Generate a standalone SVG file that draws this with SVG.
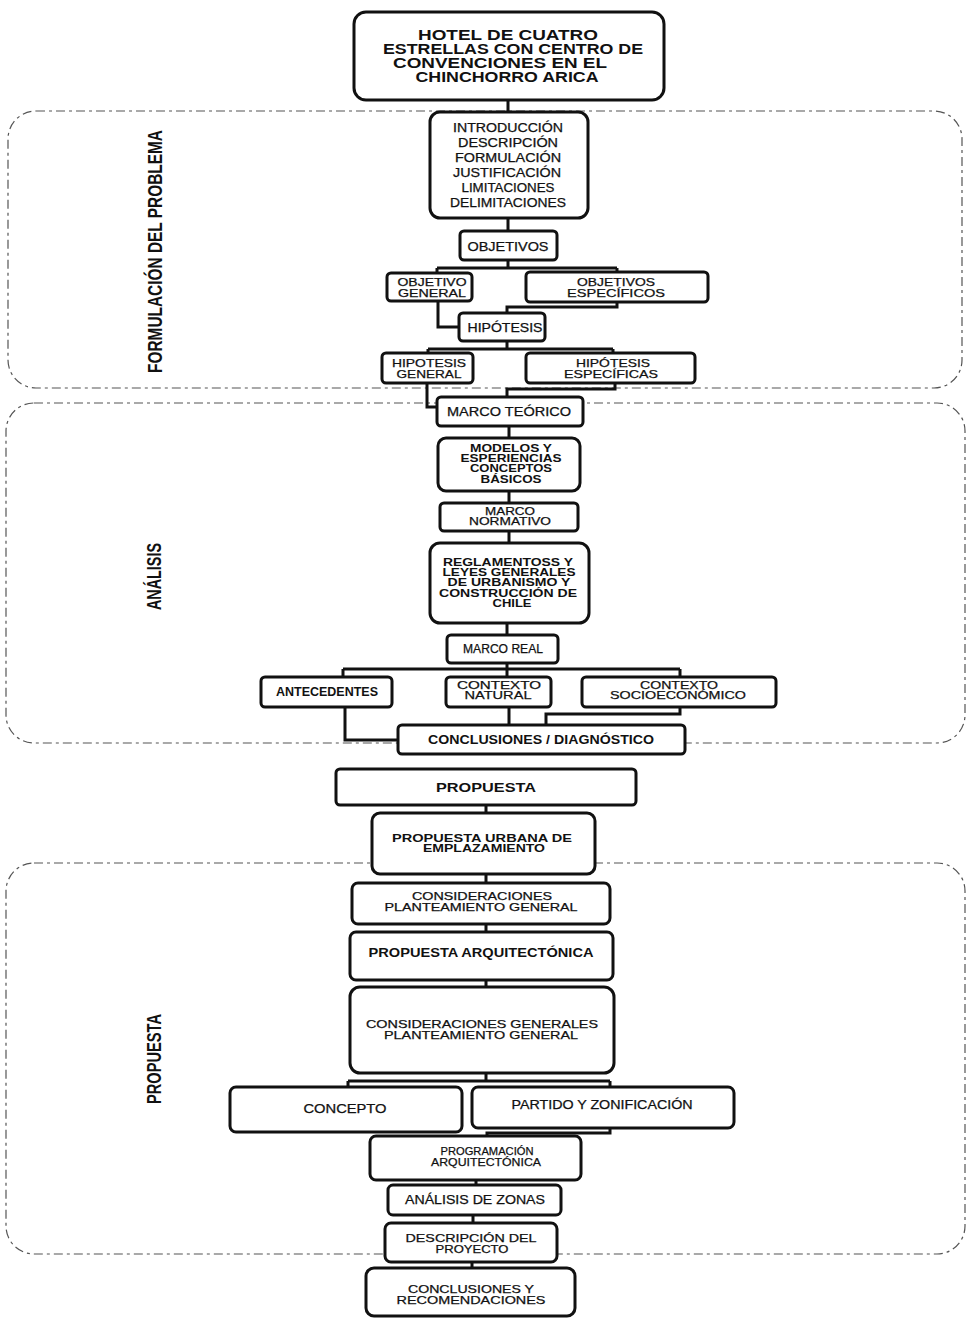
<svg xmlns="http://www.w3.org/2000/svg" width="970" height="1318" viewBox="0 0 970 1318">
<style>
.bx{fill:#fff;stroke:#111;stroke-width:3}
.t{font-family:"Liberation Sans",Arial,sans-serif;font-size:12px;fill:#111;text-anchor:middle;stroke:#111;stroke-width:0.25}
.s{font-size:11px}
.b{font-weight:bold;stroke-width:0}
.h{font-size:14.5px;font-weight:bold;stroke-width:0}
.c{fill:none;stroke:#111;stroke-width:3}
.grp{fill:none;stroke:#555;stroke-width:1.2;stroke-dasharray:9 4 3 4}
.lbl{font-family:"Liberation Sans",Arial,sans-serif;font-weight:bold;font-size:20px;fill:#111}
</style>
<rect width="970" height="1318" fill="#fff"/>
<g id="sections">
<rect class="grp" x="8" y="111" width="954" height="277" rx="28"/>
<rect class="grp" x="6" y="403" width="959" height="340" rx="28"/>
<rect class="grp" x="6" y="863" width="959" height="391" rx="28"/>
<text class="lbl" transform="translate(162,373) rotate(-90)" textLength="243" lengthAdjust="spacingAndGlyphs">FORMULACIÓN DEL PROBLEMA</text>
<text class="lbl" transform="translate(161,610) rotate(-90)" textLength="67" lengthAdjust="spacingAndGlyphs">ANÁLISIS</text>
<text class="lbl" transform="translate(161,1104) rotate(-90)" textLength="90" lengthAdjust="spacingAndGlyphs">PROPUESTA</text>
</g>
<g id="connectors">
<path class="c" d="M508 100 V112 M508 218 V231 M508 260 V268 M437 268 H617 M437 268 V273 M617 268 V272 M438 301 V327 H459 M617 302 V307 H507 V313 M507 341 V349 M428 349 H613 M428 349 V353 M613 349 V353 M427 383 V407 H437 M615 383 V389 H507 V397 M509 426 V438 M509 491 V503 M509 531 V543 M507 623 V635 M507 663 V677 M343 669 H680 M343 669 V677 M680 669 V677 M345 707 V740 H398 M509 707 V725 M680 707 V714 H546 V725 M486 805 V813 M486 874 V883 M486 924 V932 M486 980 V987 M486 1073 V1081 M348 1081 H610 M348 1081 V1087 M610 1081 V1087 M610 1128 V1133 H487 V1136 M476 1180 V1185 M473 1215 V1223 M472 1262 V1268"/>
</g>
<g id="n1"><rect class="bx" x="354" y="12" width="310" height="88" rx="12"/>
<text class="t h"><tspan x="508" y="40" textLength="180" lengthAdjust="spacingAndGlyphs">HOTEL DE CUATRO</tspan><tspan x="513" y="54" textLength="260" lengthAdjust="spacingAndGlyphs">ESTRELLAS CON CENTRO DE</tspan><tspan x="500" y="68" textLength="214" lengthAdjust="spacingAndGlyphs">CONVENCIONES EN EL</tspan><tspan x="507" y="82" textLength="183" lengthAdjust="spacingAndGlyphs">CHINCHORRO ARICA</tspan></text></g>
<g id="n2"><rect class="bx" x="430" y="112" width="158" height="106" rx="10"/>
<text class="t"><tspan x="508" y="132" textLength="110" lengthAdjust="spacingAndGlyphs">INTRODUCCIÓN</tspan><tspan x="508" y="147" textLength="100" lengthAdjust="spacingAndGlyphs">DESCRIPCIÓN</tspan><tspan x="508" y="162" textLength="106" lengthAdjust="spacingAndGlyphs">FORMULACIÓN</tspan><tspan x="507" y="177" textLength="108" lengthAdjust="spacingAndGlyphs">JUSTIFICACIÓN</tspan><tspan x="508" y="192" textLength="93" lengthAdjust="spacingAndGlyphs">LIMITACIONES</tspan><tspan x="508" y="207" textLength="116" lengthAdjust="spacingAndGlyphs">DELIMITACIONES</tspan></text></g>
<g id="n3"><rect class="bx" x="460" y="231" width="97" height="29" rx="4"/>
<text class="t" x="508" y="251" textLength="81" lengthAdjust="spacingAndGlyphs">OBJETIVOS</text></g>
<g id="n4"><rect class="bx" x="387" y="273" width="85" height="28" rx="4"/>
<text class="t s"><tspan x="432" y="286" textLength="69" lengthAdjust="spacingAndGlyphs">OBJETIVO</tspan><tspan x="432" y="297" textLength="68" lengthAdjust="spacingAndGlyphs">GENERAL</tspan></text></g>
<g id="n5"><rect class="bx" x="526" y="272" width="182" height="30" rx="4"/>
<text class="t s"><tspan x="616" y="286" textLength="78" lengthAdjust="spacingAndGlyphs">OBJETIVOS</tspan><tspan x="616" y="297" textLength="98" lengthAdjust="spacingAndGlyphs">ESPECÍFICOS</tspan></text></g>
<g id="n6"><rect class="bx" x="459" y="313" width="86" height="28" rx="4"/>
<text class="t" x="505" y="332" textLength="75" lengthAdjust="spacingAndGlyphs">HIPÓTESIS</text></g>
<g id="n7"><rect class="bx" x="382" y="353" width="91" height="30" rx="4"/>
<text class="t s"><tspan x="429" y="367" textLength="74" lengthAdjust="spacingAndGlyphs">HIPOTESIS</tspan><tspan x="429" y="378" textLength="65" lengthAdjust="spacingAndGlyphs">GENERAL</tspan></text></g>
<g id="n8"><rect class="bx" x="526" y="353" width="169" height="30" rx="4"/>
<text class="t s"><tspan x="613" y="367" textLength="74" lengthAdjust="spacingAndGlyphs">HIPÓTESIS</tspan><tspan x="611" y="378" textLength="94" lengthAdjust="spacingAndGlyphs">ESPECÍFICAS</tspan></text></g>
<g id="n9"><rect class="bx" x="437" y="397" width="146" height="29" rx="4"/>
<text class="t" x="509" y="416" textLength="124" lengthAdjust="spacingAndGlyphs">MARCO TEÓRICO</text></g>
<g id="n10"><rect class="bx" x="438" y="438" width="142" height="53" rx="8"/>
<text class="t s b"><tspan x="511" y="452" textLength="82" lengthAdjust="spacingAndGlyphs">MODELOS Y</tspan><tspan x="511" y="462" textLength="101" lengthAdjust="spacingAndGlyphs">ESPERIENCIAS</tspan><tspan x="511" y="472" textLength="82" lengthAdjust="spacingAndGlyphs">CONCEPTOS</tspan><tspan x="511" y="483" textLength="61" lengthAdjust="spacingAndGlyphs">BÁSICOS</tspan></text></g>
<g id="n11"><rect class="bx" x="440" y="503" width="138" height="28" rx="4"/>
<text class="t s"><tspan x="510" y="515" textLength="50" lengthAdjust="spacingAndGlyphs">MARCO</tspan><tspan x="510" y="525" textLength="82" lengthAdjust="spacingAndGlyphs">NORMATIVO</tspan></text></g>
<g id="n12"><rect class="bx" x="430" y="543" width="159" height="80" rx="10"/>
<text class="t s b"><tspan x="508" y="566" textLength="130" lengthAdjust="spacingAndGlyphs">REGLAMENTOSS Y</tspan><tspan x="509" y="576" textLength="133" lengthAdjust="spacingAndGlyphs">LEYES GENERALES</tspan><tspan x="509" y="586" textLength="123" lengthAdjust="spacingAndGlyphs">DE URBANISMO Y</tspan><tspan x="508" y="597" textLength="138" lengthAdjust="spacingAndGlyphs">CONSTRUCCIÓN DE</tspan><tspan x="512" y="607" textLength="39" lengthAdjust="spacingAndGlyphs">CHILE</tspan></text></g>
<g id="n13"><rect class="bx" x="447" y="635" width="111" height="28" rx="4"/>
<text class="t" x="503" y="653" textLength="80" lengthAdjust="spacingAndGlyphs">MARCO REAL</text></g>
<g id="n14"><rect class="bx" x="261" y="677" width="131" height="30" rx="4"/>
<text class="t b" x="327" y="696" textLength="102" lengthAdjust="spacingAndGlyphs">ANTECEDENTES</text></g>
<g id="n15"><rect class="bx" x="446" y="677" width="105" height="30" rx="4"/>
<text class="t s"><tspan x="499" y="689" textLength="84" lengthAdjust="spacingAndGlyphs">CONTEXTO</tspan><tspan x="498" y="699" textLength="67" lengthAdjust="spacingAndGlyphs">NATURAL</tspan></text></g>
<g id="n16"><rect class="bx" x="582" y="677" width="194" height="30" rx="4"/>
<text class="t s"><tspan x="679" y="689" textLength="78" lengthAdjust="spacingAndGlyphs">CONTEXTO</tspan><tspan x="678" y="699" textLength="136" lengthAdjust="spacingAndGlyphs">SOCIOECONÓMICO</tspan></text></g>
<g id="n17"><rect class="bx" x="398" y="725" width="287" height="29" rx="4"/>
<text class="t b" x="541" y="744" textLength="226" lengthAdjust="spacingAndGlyphs">CONCLUSIONES / DIAGNÓSTICO</text></g>
<g id="n18"><rect class="bx" x="336" y="769" width="300" height="36" rx="4"/>
<text class="t b" x="486" y="792" textLength="100" lengthAdjust="spacingAndGlyphs">PROPUESTA</text></g>
<g id="n19"><rect class="bx" x="372" y="813" width="223" height="61" rx="8"/>
<text class="t s b"><tspan x="482" y="842" textLength="180" lengthAdjust="spacingAndGlyphs">PROPUESTA URBANA DE</tspan><tspan x="484" y="852" textLength="122" lengthAdjust="spacingAndGlyphs">EMPLAZAMIENTO</tspan></text></g>
<g id="n20"><rect class="bx" x="352" y="883" width="258" height="41" rx="6"/>
<text class="t s"><tspan x="482" y="900" textLength="140" lengthAdjust="spacingAndGlyphs">CONSIDERACIONES</tspan><tspan x="481" y="911" textLength="193" lengthAdjust="spacingAndGlyphs">PLANTEAMIENTO GENERAL</tspan></text></g>
<g id="n21"><rect class="bx" x="350" y="932" width="263" height="48" rx="6"/>
<text class="t b" x="481" y="957" textLength="225" lengthAdjust="spacingAndGlyphs">PROPUESTA ARQUITECTÓNICA</text></g>
<g id="n22"><rect class="bx" x="350" y="987" width="264" height="86" rx="10"/>
<text class="t s"><tspan x="482" y="1028" textLength="232" lengthAdjust="spacingAndGlyphs">CONSIDERACIONES GENERALES</tspan><tspan x="481" y="1039" textLength="194" lengthAdjust="spacingAndGlyphs">PLANTEAMIENTO GENERAL</tspan></text></g>
<g id="n23"><rect class="bx" x="230" y="1087" width="232" height="45" rx="6"/>
<text class="t" x="345" y="1113" textLength="83" lengthAdjust="spacingAndGlyphs">CONCEPTO</text></g>
<g id="n24"><rect class="bx" x="472" y="1087" width="262" height="41" rx="6"/>
<text class="t" x="602" y="1109" textLength="181" lengthAdjust="spacingAndGlyphs">PARTIDO Y ZONIFICACIÓN</text></g>
<g id="n25"><rect class="bx" x="370" y="1136" width="211" height="44" rx="6"/>
<text class="t s"><tspan x="487" y="1155" textLength="93" lengthAdjust="spacingAndGlyphs">PROGRAMACIÓN</tspan><tspan x="486" y="1166" textLength="110" lengthAdjust="spacingAndGlyphs">ARQUITECTÓNICA</tspan></text></g>
<g id="n26"><rect class="bx" x="388" y="1185" width="173" height="30" rx="5"/>
<text class="t" x="475" y="1204" textLength="140" lengthAdjust="spacingAndGlyphs">ANÁLISIS DE ZONAS</text></g>
<g id="n27"><rect class="bx" x="385" y="1223" width="172" height="39" rx="6"/>
<text class="t s"><tspan x="471" y="1242" textLength="131" lengthAdjust="spacingAndGlyphs">DESCRIPCIÓN DEL</tspan><tspan x="472" y="1253" textLength="73" lengthAdjust="spacingAndGlyphs">PROYECTO</tspan></text></g>
<g id="n28"><rect class="bx" x="366" y="1268" width="209" height="48" rx="8"/>
<text class="t s"><tspan x="471" y="1293" textLength="126" lengthAdjust="spacingAndGlyphs">CONCLUSIONES Y</tspan><tspan x="471" y="1304" textLength="149" lengthAdjust="spacingAndGlyphs">RECOMENDACIONES</tspan></text></g>
</svg>
